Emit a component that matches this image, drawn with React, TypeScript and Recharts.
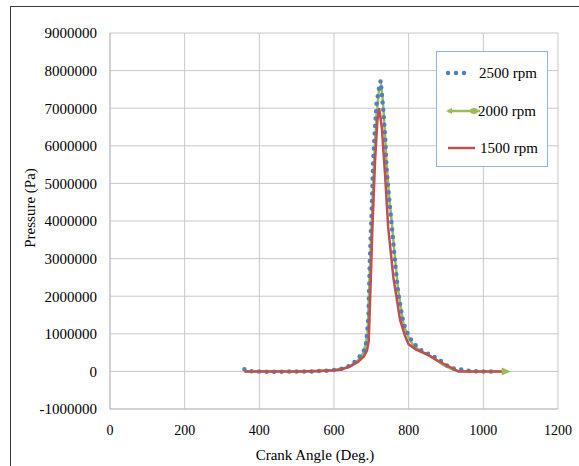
import React from 'react';
import { LineChart, Line, XAxis, YAxis, CartesianGrid, Legend, Label } from 'recharts';

const xTicks = [0, 200, 400, 600, 800, 1000, 1200];
const yTicks = [-1000000, 0, 1000000, 2000000, 3000000, 4000000, 5000000, 6000000, 7000000, 8000000, 9000000];

const angle2500 = [360, 380, 420, 460, 500, 540, 580, 600, 625, 647, 665, 679, 686, 692, 696, 701, 705, 710, 714, 720, 725, 732, 737, 741, 748, 755, 763, 772, 786, 800, 812, 835, 857, 878, 897, 918, 942, 964, 1000, 1040];
const p2500 = [60000, 0, -10000, -10000, 0, 0, 20000, 40000, 80000, 170000, 350000, 520000, 750000, 1400000, 2960000, 4290000, 5620000, 6510000, 7130000, 7500000, 7730000, 6950000, 6240000, 5360000, 4560000, 3850000, 2960000, 2080000, 1280000, 950000, 750000, 550000, 440000, 340000, 190000, 80000, 50000, 10000, 0, 0];

const angle2000 = [360, 400, 450, 500, 550, 600, 640, 665, 680, 690, 696, 702, 708, 714, 720, 726, 730, 735, 741, 748, 755, 763, 772, 786, 800, 812, 830, 855, 875, 893, 911, 930, 960, 1000, 1060];
const p2000 = [0, 0, 0, 0, 0, 30000, 120000, 300000, 500000, 1000000, 2700000, 4200000, 5700000, 6800000, 7450000, 7600000, 7300000, 6600000, 5500000, 4600000, 3950000, 3050000, 2150000, 1250000, 900000, 700000, 550000, 420000, 300000, 170000, 80000, 20000, 0, 0, 0];

const angle1500 = [360, 400, 450, 500, 550, 600, 620, 645, 665, 680, 688, 693, 697, 703, 710, 716, 721, 728, 737, 745, 759, 777, 790, 800, 820, 850, 875, 900, 933, 980, 1050];
const p1500 = [0, 0, 0, 0, 10000, 30000, 50000, 140000, 260000, 400000, 550000, 800000, 2000000, 3850000, 5600000, 6650000, 7000000, 6500000, 5200000, 3850000, 2500000, 1370000, 950000, 720000, 580000, 450000, 300000, 170000, 0, 0, 0];

const series = [
  { name: '2500 rpm', color: '#4F81BD' },
  { name: '2000 rpm', color: '#9BBB59' },
  { name: '1500 rpm', color: '#C0504D' },
];

const toData = (xs: number[], ys: number[]) => xs.map((x, i) => ({ x, p: ys[i] }));
const data2500 = toData(angle2500, p2500);
const data2000 = toData(angle2000, p2000);
const data1500 = toData(angle1500, p1500);

const FONT = '"Liberation Serif", "Times New Roman", serif';

const ArrowEnd = (props: any) => {
  const { cx, cy, index } = props;
  if (index !== data2000.length - 1) return <g key={`d${index}`} />;
  return <polygon key={`d${index}`} points={`${cx + 5},${cy} ${cx - 4},${cy - 4} ${cx - 4},${cy + 4}`} fill={series[1].color} />;
};

const renderLegend = () => (
  <svg width={112} height={116} style={{ display: 'block' }}>
    <rect x={0.5} y={0.5} width={111} height={115} fill="#fff" stroke="#95B3D7" strokeWidth={1} />
    <line x1={12} y1={22} x2={32} y2={22} stroke={series[0].color} strokeWidth={4.5} strokeLinecap="round" strokeDasharray="0 8" />
    <text x={43} y={27} fontFamily={FONT} fontSize={15} fill="#000">2500 rpm</text>
    <line x1={12} y1={60} x2={44} y2={60} stroke={series[1].color} strokeWidth={2.5} />
    <polygon points="10,60 16,57 16,63" fill={series[1].color} />
    <ellipse cx={38} cy={60} rx={4} ry={3} fill={series[1].color} />
    <text x={42} y={65} fontFamily={FONT} fontSize={15} fill="#000">2000 rpm</text>
    <line x1={12} y1={97} x2={39} y2={97} stroke={series[2].color} strokeWidth={2.5} />
    <text x={44} y={102} fontFamily={FONT} fontSize={15} fill="#000">1500 rpm</text>
  </svg>
);

export default function App() {
  return (
    <div style={{ position: 'absolute', left: 0, top: 0, width: 579, height: 466, overflow: 'hidden', background: '#fff' }}>
      <div style={{ position: 'absolute', left: 10, top: 6, width: 620, height: 520, borderLeft: '1.5px solid #3a3a3a', borderTop: '1.5px solid #3a3a3a' }} />
      <LineChart width={579} height={466} margin={{ top: 33, right: 21, bottom: 27, left: 10 }}>
        <CartesianGrid stroke="#c8c8c8" strokeWidth={1} />
        <XAxis
          type="number"
          dataKey="x"
          domain={[0, 1200]}
          ticks={xTicks}
          interval={0}
          height={30}
          tickLine={false}
          tickSize={14}
          axisLine={{ stroke: '#c0c0c0' }}
          tick={{ fontFamily: FONT, fontSize: 14, fill: '#000' }}
        >
          <Label
            content={() => (
              <text x={315} y={460} textAnchor="middle" fontFamily={FONT} fontSize={15} fill="#000">Crank Angle (Deg.)</text>
            )}
          />
        </XAxis>
        <YAxis
          type="number"
          dataKey="p"
          domain={[-1000000, 9000000]}
          ticks={yTicks}
          interval={0}
          width={100}
          tickLine={false}
          tickSize={11}
          axisLine={{ stroke: '#c0c0c0' }}
          tick={{ fontFamily: FONT, fontSize: 15, fill: '#000' }}
        >
          <Label
            content={() => (
              <text x={35} y={208} transform="rotate(-90 35 208)" textAnchor="middle" fontFamily={FONT} fontSize={15} fill="#000">Pressure (Pa)</text>
            )}
          />
        </YAxis>
        <Legend
          verticalAlign="middle"
          layout="horizontal"
          align="center"
          content={renderLegend}
          wrapperStyle={{ position: 'absolute', left: 436, top: 51, width: 112, height: 116 }}
        />
        <Line
          data={data2000}
          dataKey="p"
          name={series[1].name}
          type="linear"
          stroke={series[1].color}
          strokeWidth={2.5}
          dot={ArrowEnd}
          isAnimationActive={false}
        />
        <Line
          data={data2500}
          dataKey="p"
          name={series[0].name}
          type="linear"
          stroke={series[0].color}
          strokeWidth={4.5}
          strokeLinecap="round"
          strokeDasharray="0 7.5"
          dot={false}
          isAnimationActive={false}
        />
        <Line
          data={data1500}
          dataKey="p"
          name={series[2].name}
          type="linear"
          stroke={series[2].color}
          strokeWidth={2.5}
          dot={false}
          isAnimationActive={false}
        />
      </LineChart>
    </div>
  );
}
